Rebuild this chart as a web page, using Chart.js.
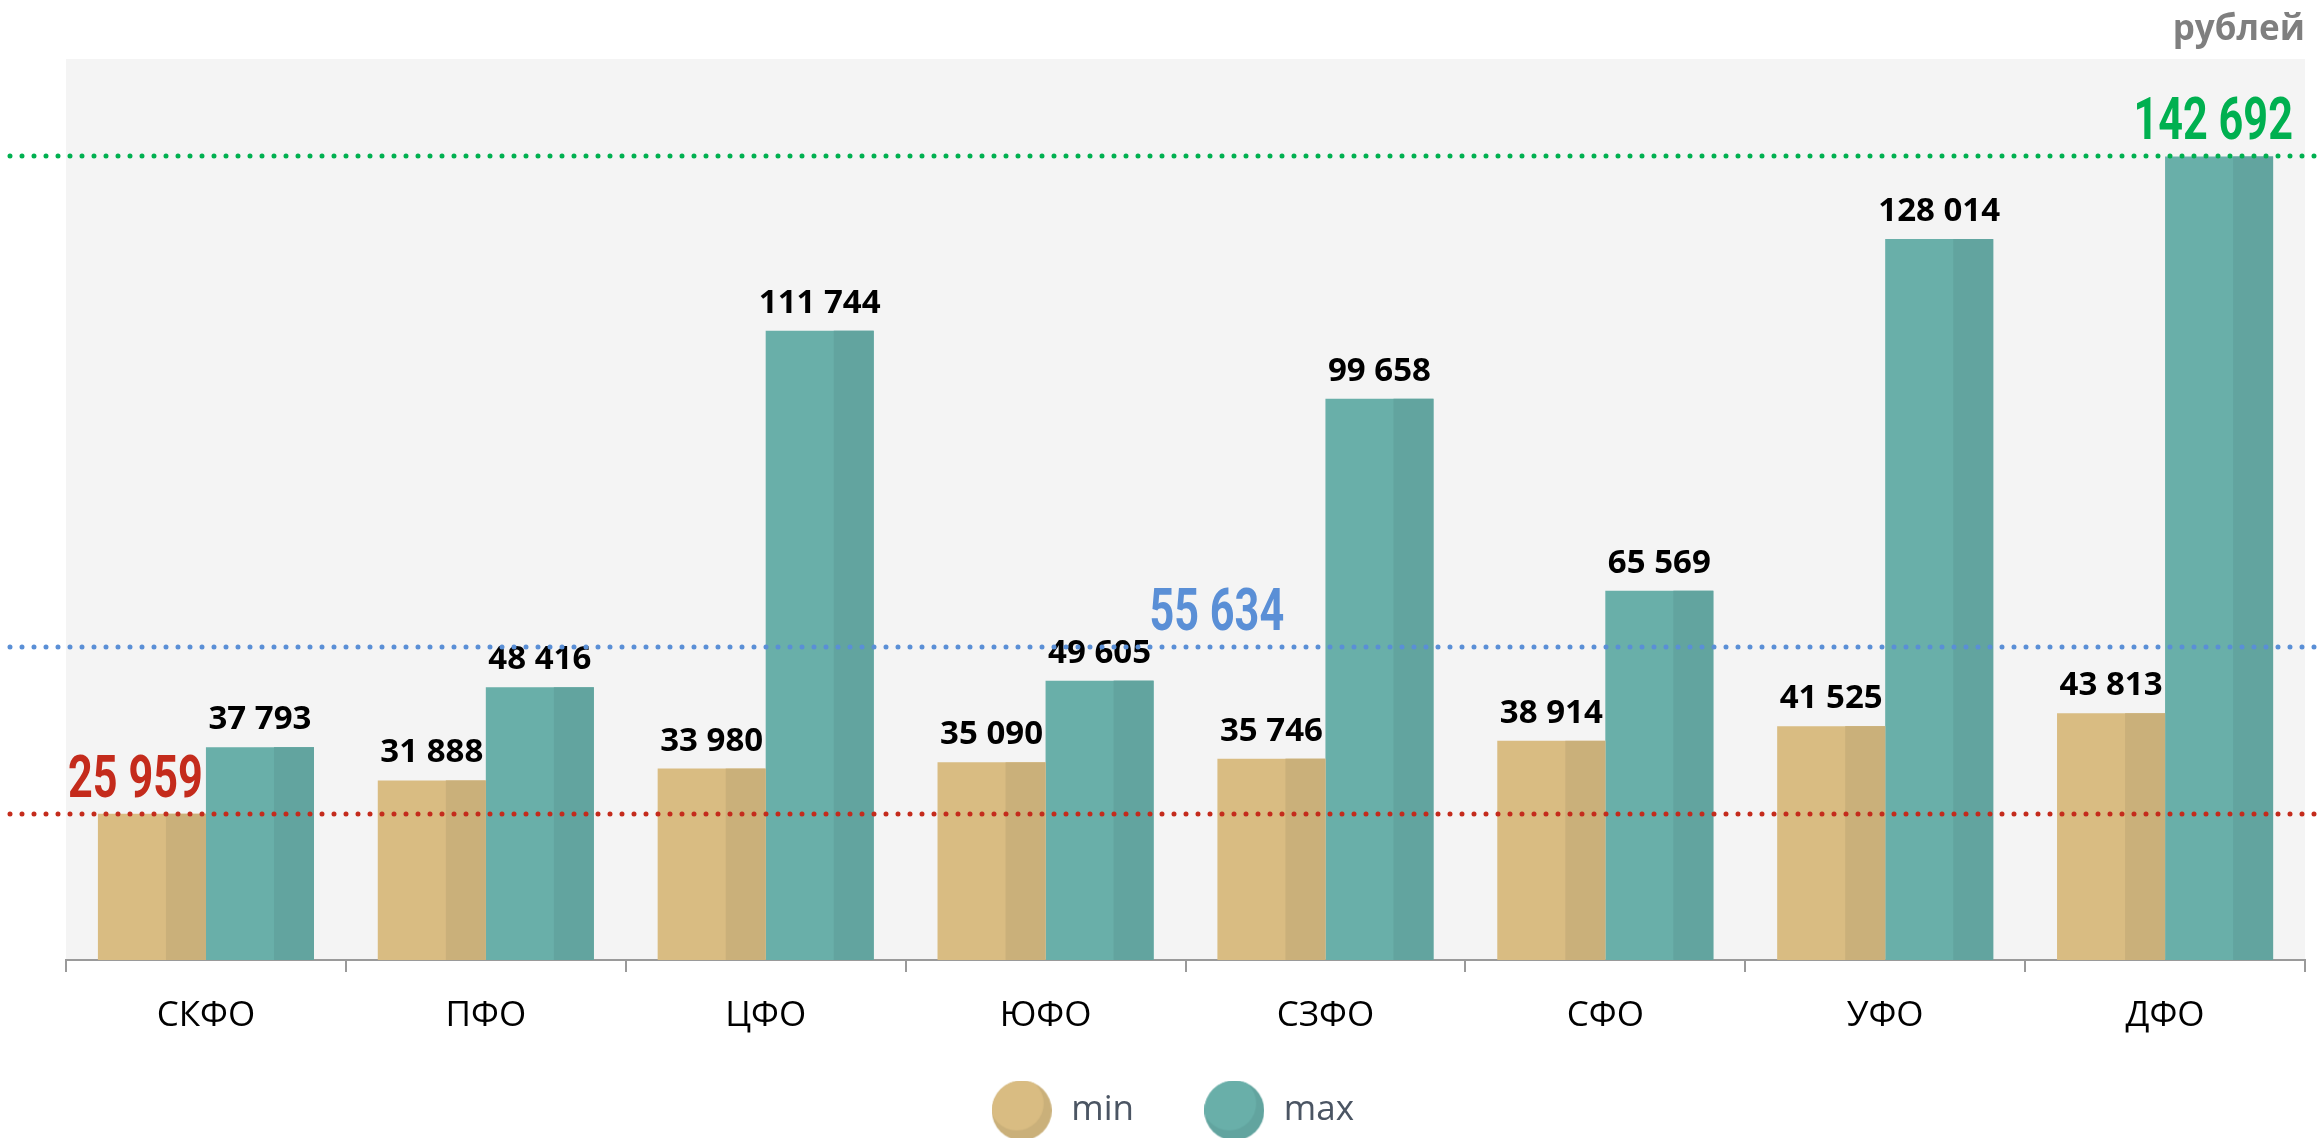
<!DOCTYPE html>
<html>
<head>
<meta charset="utf-8">
<script src="https://cdn.jsdelivr.net/npm/chart.js@4.4.0/dist/chart.umd.min.js"></script>
<style>
  html, body { margin:0; padding:0; background:#fff; }
  #wrap { width:2320px; height:1141px; }
</style>
</head>
<body>
<div id="wrap"><canvas id="chart" width="2320" height="1141"></canvas></div>
<script>
// data (рублей)
const categories = ['СКФО', 'ПФО', 'ЦФО', 'ЮФО', 'СЗФО', 'СФО', 'УФО', 'ДФО'];
const minValues = [25959, 31888, 33980, 35090, 35746, 38914, 41525, 43813];
const maxValues = [37793, 48416, 111744, 49605, 99658, 65569, 128014, 142692];
const seriesNames = ['min', 'max'];
// reference lines: lowest min, average, highest max
const refValues = [25959, 55634, 142692];

// styles
const COLORS = {
  min: { light:'#D9BC82', dark:'#CAB07A' },
  max: { light:'#69AFA9', dark:'#62A49F' }
};
const REF_STYLE = [
  { color:'#C42B1C', xFrac:0.031 },
  { color:'#5A8FD6', xFrac:0.514 },
  { color:'#00B050', xFrac:0.959 }
];
const fmt = v => String(v).replace(/\B(?=(\d{3})+(?!\d))/g, ' ');

// round legend marker with darker crescent
function makeDot(c){
  const s = 60, cv = document.createElement('canvas'); cv.width = s; cv.height = s;
  const g = cv.getContext('2d');
  g.beginPath(); g.arc(s/2, s/2, s/2, 0, Math.PI*2); g.closePath();
  g.fillStyle = c.dark; g.fill(); g.save(); g.clip();
  g.beginPath(); g.arc(s/2 - 5, s/2 - 7, s/2 - 3, 0, Math.PI*2); g.fillStyle = c.light; g.fill();
  g.restore();
  return cv;
}
const dots = [makeDot(COLORS.min), makeDot(COLORS.max)];

// gray plot background
const bgPlugin = {
  id:'bg',
  beforeDraw(chart){
    const {ctx, chartArea:a} = chart;
    ctx.save(); ctx.fillStyle = '#F4F4F4'; ctx.fillRect(a.left, a.top, a.right - a.left, a.bottom - a.top); ctx.restore();
  }
};

// darker right part of every bar + value labels
const barPlugin = {
  id:'barShade',
  afterDatasetsDraw(chart){
    const ctx = chart.ctx;
    ctx.save();
    chart.data.datasets.forEach((ds, di) => {
      const dark = di === 0 ? COLORS.min.dark : COLORS.max.dark;
      chart.getDatasetMeta(di).data.forEach((bar, i) => {
        const left = bar.x - bar.width/2;
        const split = left + bar.width*0.63;
        ctx.fillStyle = dark;
        ctx.fillRect(split, bar.y, left + bar.width - split, bar.base - bar.y);
        const v = ds.data[i];
        if(refValues.includes(v)) return;
        ctx.fillStyle = '#000';
        ctx.font = 'bold 33px "Open Sans"';
        ctx.textAlign = 'center'; ctx.textBaseline = 'alphabetic';
        ctx.fillText(fmt(v), bar.x, bar.y - 18);
      });
    });
    ctx.restore();
  }
};

// dotted reference lines with big numbers
const refPlugin = {
  id:'refLines',
  afterDatasetsDraw(chart){
    const {ctx, chartArea:a, scales:{y}} = chart;
    ctx.save();
    refValues.forEach((v, i) => {
      const st = REF_STYLE[i];
      const py = Math.round(y.getPixelForValue(v));
      ctx.strokeStyle = st.color; ctx.lineWidth = 5; ctx.lineCap = 'round';
      ctx.setLineDash([0, 12]);
      ctx.beginPath(); ctx.moveTo(10, py); ctx.lineTo(chart.width, py); ctx.stroke();
      // condensed heavy label
      const cx = a.left + (a.right - a.left)*st.xFrac;
      ctx.save();
      ctx.translate(cx, py - 17); ctx.scale(0.72, 1);
      ctx.font = 'bold 60px Roboto';
      ctx.fillStyle = st.color; ctx.textAlign = 'center'; ctx.textBaseline = 'alphabetic';
      ctx.fillText(fmt(v), 0, 0);
      ctx.restore();
    });
    ctx.restore();
  }
};

const chart = new Chart(document.getElementById('chart'), {
  type:'bar',
  data:{
    labels: categories,
    datasets:[
      { label: seriesNames[0], data: minValues, backgroundColor: COLORS.min.light, borderWidth:0 },
      { label: seriesNames[1], data: maxValues, backgroundColor: COLORS.max.light, borderWidth:0 }
    ]
  },
  options:{
    responsive:false, animation:false,
    datasets:{ bar:{ barPercentage:1, categoryPercentage:0.772 } },
    layout:{ padding:{ left:66, right:15, top:3, bottom:3 } },
    scales:{
      x:{
        grid:{ display:true, drawOnChartArea:false, drawTicks:true, tickLength:12, color:'#9a9a9a', lineWidth:2, offset:true },
        border:{ display:true, color:'#9a9a9a', width:2 },
        ticks:{ color:'#000', padding:44, font:{ family:'"Open Sans"', size:35, lineHeight:0.03 } }
      },
      y:{ display:false, min:0, max:160000 }
    },
    plugins:{
      title:{ display:true, text:'рублей', align:'end', color:'#7F7F7F', font:{ family:'"Open Sans"', size:35, weight:'bold' }, padding:{ top:6, bottom:8 } },
      tooltip:{ enabled:false },
      legend:{
        position:'bottom',
        labels:{
          usePointStyle:true, pointStyleWidth:64, padding:32, color:'#4B5563',
          font:{ family:'"Open Sans"', size:35 },
          // trailing spaces: wider gap between items, legend sits a bit left as in the original
          generateLabels: ch => ch.data.datasets.map((ds, i) => ({
            text: ds.label + (i === 0 ? '    ' : '   '), pointStyle: dots[i], fillStyle: ds.backgroundColor,
            strokeStyle: ds.backgroundColor, lineWidth:0, datasetIndex:i, fontColor:'#4B5563'
          }))
        }
      }
    }
  },
  plugins:[bgPlugin, barPlugin, refPlugin]
});
</script>
</body>
</html>
